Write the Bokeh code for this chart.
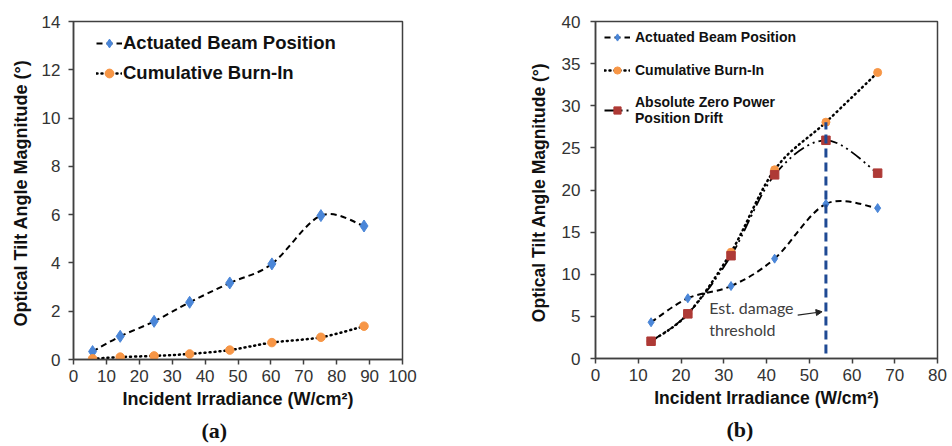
import math
from bokeh.plotting import figure
from bokeh.layouts import row
from bokeh.models import Legend, LegendItem, Label, Arrow, NormalHead, Title
from bokeh.embed import file_html
from bokeh.resources import INLINE

# ---------------- data (a) ----------------
a_irr = [5.8, 14.2, 24.5, 35.3, 47.5, 60.3, 75.2, 88.3]
a_beam = [0.33, 0.96, 1.58, 2.37, 3.17, 3.96, 5.96, 5.53]
a_burn = [0.03, 0.10, 0.15, 0.23, 0.39, 0.70, 0.92, 1.38]
a_xticks = [0, 10, 20, 30, 40, 50, 60, 70, 80, 90, 100]
a_yticks = [0, 2, 4, 6, 8, 10, 12, 14]

# ---------------- data (b) ----------------
b_irr = [13.0, 21.6, 31.7, 41.9, 53.9, 66.0]
b_beam = [4.3, 7.15, 8.6, 11.85, 18.35, 17.85]
b_burn = [2.05, 5.3, 12.6, 22.4, 28.05, 33.95]
b_drift = [2.05, 5.3, 12.2, 21.8, 25.9, 22.0]
b_xticks = [0, 10, 20, 30, 40, 50, 60, 70, 80]
b_yticks = [0, 5, 10, 15, 20, 25, 30, 35, 40]
threshold_x = 53.9
threshold_y = [0.6, 28.05]

BLUE = "#4A86D8"
ORANGE = "#F79646"
RED = "#AE3A36"
AXIS = "#404040"
FONT = "Liberation Sans"


def smooth_segments(xs, ys, t=1.0 / 6.0):
    """Bezier control points for an Excel-like smoothed line through the data."""
    n = len(xs)
    d = dict(x0=[], y0=[], x1=[], y1=[], cx0=[], cy0=[], cx1=[], cy1=[])
    for i in range(n - 1):
        xp, yp = (xs[i - 1], ys[i - 1]) if i > 0 else (xs[i], ys[i])
        xn, yn = (xs[i + 2], ys[i + 2]) if i + 2 < n else (xs[i + 1], ys[i + 1])
        d["x0"].append(xs[i]); d["y0"].append(ys[i])
        d["x1"].append(xs[i + 1]); d["y1"].append(ys[i + 1])
        d["cx0"].append(xs[i] + (xs[i + 1] - xp) * t)
        d["cy0"].append(ys[i] + (ys[i + 1] - yp) * t)
        d["cx1"].append(xs[i + 1] - (xn - xs[i]) * t)
        d["cy1"].append(ys[i + 1] - (yn - ys[i]) * t)
    return d


def style(p, xticks, yticks, ylabel, tick_size, lab_size, ylab_standoff, ytick_standoff):
    p.xgrid.visible = False
    p.ygrid.visible = False
    p.outline_line_color = AXIS
    p.outline_line_width = 1.5
    p.xaxis.ticker = xticks
    p.yaxis.ticker = yticks
    for ax in (p.xaxis[0], p.yaxis[0]):
        ax.axis_line_color = AXIS
        ax.axis_line_width = 1.5
        ax.major_tick_line_color = AXIS
        ax.major_tick_line_width = 1.5
        ax.major_tick_in = 0
        ax.major_tick_out = 5
        ax.minor_tick_line_color = None
        ax.major_label_text_font = FONT
        ax.major_label_text_font_size = tick_size
        ax.major_label_text_color = "#333333"
        ax.axis_label_text_font = FONT
        ax.axis_label_text_font_style = "bold"
        ax.axis_label_text_color = "#111111"
        ax.axis_label_text_font_size = lab_size
    p.xaxis.major_label_standoff = 5
    p.yaxis.major_label_standoff = ytick_standoff
    p.xaxis.axis_label = "Incident Irradiance (W/cm²)"
    p.xaxis.axis_label_standoff = 4
    p.yaxis.axis_label = ylabel
    p.yaxis.axis_label_standoff = ylab_standoff


def caption(p, text, offset):
    p.add_layout(Title(text=text, align="left", offset=offset, standoff=9,
                       text_font="Liberation Serif", text_font_size="22px",
                       text_font_style="bold", text_color="#111111"), "below")


# ---------------- figure (a) ----------------
pa = figure(frame_width=329, frame_height=338, x_range=(0, 100), y_range=(0, 14),
            min_border_left=73, min_border_right=74, min_border_top=21, min_border_bottom=5,
            output_backend="svg", toolbar_location=None)
style(pa, a_xticks, a_yticks, "Optical Tilt Angle Magnitude  (°)", "17px", "18px", 8, 8)

sa = smooth_segments(a_irr, a_beam)
la1 = pa.bezier(source=sa, x0="x0", y0="y0", x1="x1", y1="y1", cx0="cx0", cy0="cy0",
                cx1="cx1", cy1="cy1", line_color="black", line_width=2, line_dash="6 4")
sb = smooth_segments(a_irr, a_burn)
la2 = pa.bezier(source=sb, x0="x0", y0="y0", x1="x1", y1="y1", cx0="cx0", cy0="cy0",
                cx1="cx1", cy1="cy1", line_color="black", line_width=2.5, line_dash="1 4",
                line_cap="round")
ma1 = pa.scatter(a_irr, a_beam, marker="diamond", size=12,
                 fill_color=BLUE, line_color=BLUE)
ma2 = pa.scatter(a_irr, a_burn, marker="circle", size=8.5, fill_color=ORANGE, line_color=ORANGE)

leg_a = Legend(items=[LegendItem(label="Actuated Beam Position", renderers=[la1, ma1]),
                      LegendItem(label="Cumulative Burn-In", renderers=[la2, ma2])],
               location=(23, 275), padding=0, margin=0, spacing=8, glyph_width=26,
               glyph_height=22, label_height=22, label_standoff=1,
               label_text_font=FONT, label_text_font_style="bold", label_text_font_size="18.5px",
               label_text_color="#111111", background_fill_alpha=0, border_line_color=None)
pa.add_layout(leg_a)
caption(pa, "(a)", 128)

# ---------------- figure (b) ----------------
pb = figure(frame_width=342, frame_height=337, x_range=(0, 80), y_range=(0, 40),
            min_border_left=119, min_border_right=10, min_border_top=21, min_border_bottom=5,
            output_backend="svg", toolbar_location=None)
style(pb, b_xticks, b_yticks, "Optical Tilt Angle Magnitude  (°)", "17px", "17.5px", 10, 10)

s1 = smooth_segments(b_irr, b_beam)
lb1 = pb.bezier(source=s1, x0="x0", y0="y0", x1="x1", y1="y1", cx0="cx0", cy0="cy0",
                cx1="cx1", cy1="cy1", line_color="black", line_width=2, line_dash="6 4")
s2 = smooth_segments(b_irr, b_burn)
lb2 = pb.bezier(source=s2, x0="x0", y0="y0", x1="x1", y1="y1", cx0="cx0", cy0="cy0",
                cx1="cx1", cy1="cy1", line_color="black", line_width=2.5, line_dash="1 4",
                line_cap="round")
s3 = smooth_segments(b_irr, b_drift)
lb3 = pb.bezier(source=s3, x0="x0", y0="y0", x1="x1", y1="y1", cx0="cx0", cy0="cy0",
                cx1="cx1", cy1="cy1", line_color="black", line_width=1.8,
                line_dash="12 4 2 4 2 4")
mb2 = pb.scatter(b_irr, b_burn, marker="circle", size=8, fill_color=ORANGE, line_color=ORANGE)
mb3 = pb.scatter(b_irr, b_drift, marker="square", size=8.5, fill_color=RED, line_color=RED)
mb1 = pb.scatter(b_irr, b_beam, marker="diamond", size=9,
                 fill_color=BLUE, line_color=BLUE)

pb.segment(x0=[threshold_x], y0=[threshold_y[0]], x1=[threshold_x], y1=[threshold_y[1]],
           line_color="#1F4A94", line_width=3, line_dash="9 5")

pb.add_layout(Label(x=26.6, y=7.2, text="Est. damage\nthreshold", text_font="Lato",
                    text_font_size="16px", text_color="#404040", text_align="left",
                    text_baseline="top", text_line_height=1.15))
pb.add_layout(Arrow(x_start=47.3, y_start=5.15, x_end=53.0, y_end=5.55, line_color="#222222",
                    line_width=1.2,
                    end=NormalHead(size=6, fill_color="#222222", line_color="#222222")))

leg_b = Legend(items=[LegendItem(label="Actuated Beam Position", renderers=[lb1, mb1]),
                      LegendItem(label="Cumulative Burn-In", renderers=[lb2, mb2]),
                      LegendItem(label="Absolute Zero Power\nPosition Drift", renderers=[lb3, mb3])],
               location=(9, 232), padding=0, margin=0, spacing=15, glyph_width=26,
               glyph_height=18, label_height=18, label_standoff=5,
               label_text_font=FONT, label_text_font_style="bold", label_text_font_size="14px",
               label_text_color="#111111", background_fill_alpha=0, border_line_color=None)
pb.add_layout(leg_b)
caption(pb, "(b)", 131)

layout = row(pa, pb)
open("out.html", "w").write(file_html(layout, INLINE))
